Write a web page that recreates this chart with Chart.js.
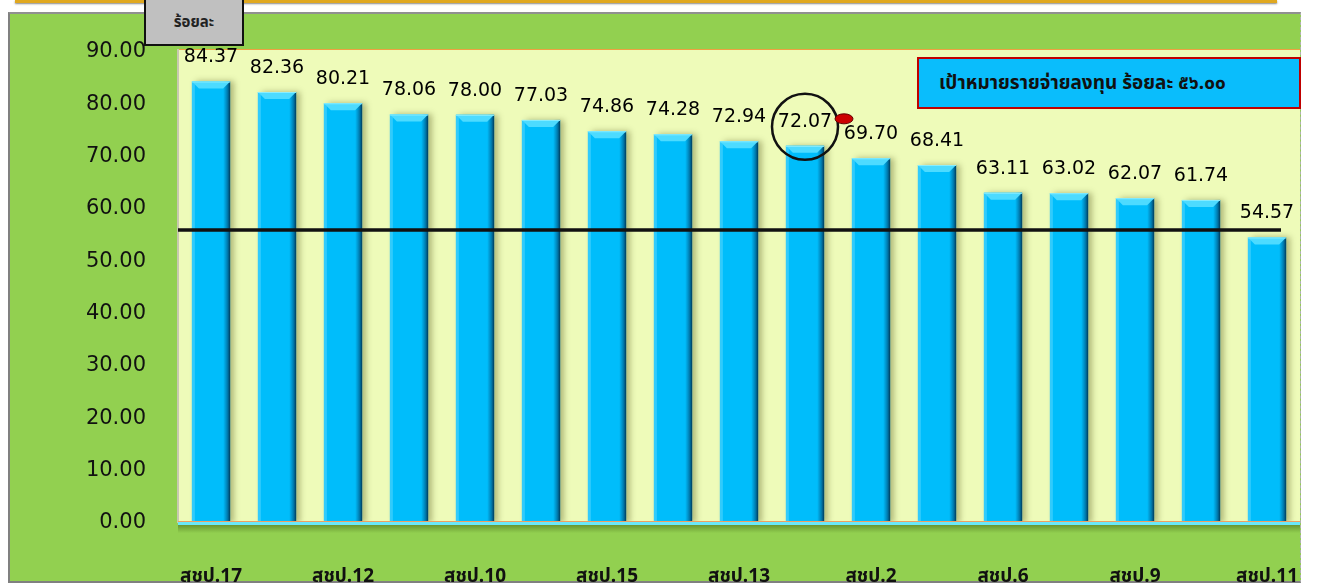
<!DOCTYPE html>
<html>
<head>
<meta charset="utf-8">
<script src="https://cdn.jsdelivr.net/npm/chart.js@4.4.1/dist/chart.umd.min.js"></script>
<style>
  body { margin: 0; background: #fff; width: 1327px; height: 584px; overflow: hidden; position: relative; }
  #topline { position: absolute; left: 15px; top: 0; width: 1262px; height: 3px; background: #e0a820; box-shadow: 0 1px 2px #888; }
  #frame { position: absolute; left: 8px; top: 12px; width: 1290px; height: 567px; background: #92d050;
           border-left: 2px solid #808080; border-top: 2px solid #909090; border-bottom: 2px solid #808080; border-right: 1px dashed #b0b0b0; }
  #chart { position: absolute; left: 0; top: 0; }
  #unit { position: absolute; left: 144px; top: -2px; width: 96px; height: 44px; background: #c0c0c0;
          border: 2px solid #111; display: flex; align-items: center; justify-content: center;
          font: bold 15px "Noto Sans Thai", Tahoma, "Noto Sans", sans-serif; color: #222; }
  #target { position: absolute; left: 917px; top: 57px; width: 380px; height: 48px; background: #0abdfc;
            border: 2px solid #c00000; display: flex; align-items: center;
            font: bold 19px "Noto Sans Thai", Tahoma, "Noto Sans", sans-serif; color: #111; }
  #target span { margin-left: 20px; }
</style>
</head>
<body>
<div id="topline"></div>
<div id="frame"></div>
<canvas id="chart" width="1327" height="584"></canvas>
<div id="unit">ร้อยละ</div>
<div id="target"><span>เป้าหมายรายจ่ายลงทุน ร้อยละ ๕๖.๐๐</span></div>
<script>
// categories whose names are hidden in the picture are left blank
const categories = ['สชป.17', '', 'สชป.12', '', 'สชป.10', '', 'สชป.15', '', 'สชป.13', '', 'สชป.2', '', 'สชป.6', '', 'สชป.9', '', 'สชป.11'];
const values = [84.37, 82.36, 80.21, 78.06, 78.00, 77.03, 74.86, 74.28, 72.94, 72.07, 69.70, 68.41, 63.11, 63.02, 62.07, 61.74, 54.57];
const targetValue = 56;
const yTicks = [0, 10, 20, 30, 40, 50, 60, 70, 80, 90];
const highlightIndex = 9;

const decor = {
    id: 'decor',
    beforeDraw(chart) {
        const ctx = chart.ctx;
        const a = chart.chartArea;
        ctx.save();
        // plot area
        ctx.fillStyle = '#eefbb9';
        ctx.fillRect(a.left, a.top - 3, a.right - a.left, a.bottom - a.top + 3);
        ctx.fillStyle = '#f0a040';
        ctx.fillRect(a.left, a.top - 3, a.right - a.left, 1);
        ctx.fillStyle = '#c8c8b0';
        ctx.fillRect(a.left - 1, a.top - 3, 2, a.bottom - a.top + 3);
        // shadow under the floor
        const g = ctx.createLinearGradient(0, a.bottom + 1, 0, a.bottom + 10);
        g.addColorStop(0, 'rgba(60,90,20,0.55)');
        g.addColorStop(1, 'rgba(60,90,20,0)');
        ctx.fillStyle = g;
        ctx.fillRect(a.left, a.bottom + 1, a.right - a.left, 9);
        ctx.restore();
    },
    beforeDatasetsDraw(chart) {
        const ctx = chart.ctx;
        ctx.save();
        ctx.shadowColor = 'rgba(60,60,0,0.35)';
        ctx.shadowBlur = 6;
        ctx.shadowOffsetX = 4;
    },
    afterDatasetsDraw(chart) {
        const ctx = chart.ctx;
        ctx.restore();
        const a = chart.chartArea;
        const meta = chart.getDatasetMeta(0);
        ctx.save();
        meta.data.forEach((bar, i) => {
            const p = bar.getProps(['x', 'y', 'base', 'width'], true);
            const l = p.x - p.width / 2, r = p.x + p.width / 2, b = 7;
            // left highlight
            ctx.fillStyle = 'rgba(140,230,255,0.35)';
            ctx.fillRect(l, p.y, 3, p.base - p.y);
            // dark right edge
            const gr = ctx.createLinearGradient(r - 7, 0, r, 0);
            gr.addColorStop(0, 'rgba(0,90,140,0)');
            gr.addColorStop(0.6, 'rgba(0,80,125,0.6)');
            gr.addColorStop(1, 'rgba(0,50,80,0.95)');
            ctx.fillStyle = gr;
            ctx.fillRect(r - 7, p.y, 7, p.base - p.y);
            // top bevel
            ctx.fillStyle = '#4ddbff';
            ctx.beginPath();
            ctx.moveTo(l, p.y);
            ctx.lineTo(r, p.y);
            ctx.lineTo(r - b, p.y + b);
            ctx.lineTo(l + b, p.y + b);
            ctx.closePath();
            ctx.fill();
            ctx.fillStyle = '#8beeff';
            ctx.fillRect(l, p.y, p.width, 1);
            // label
            ctx.fillStyle = '#000';
            ctx.font = '19px "DejaVu Sans"';
            ctx.textAlign = 'center';
            ctx.textBaseline = 'middle';
            ctx.fillText(values[i].toFixed(2), p.x, p.y - 24);
        });
        // floor
        ctx.fillStyle = '#f0a060';
        ctx.fillRect(a.left, a.bottom - 2, a.right - a.left, 1);
        ctx.fillStyle = '#6ae8f8';
        ctx.fillRect(a.left, a.bottom - 1, a.right - a.left, 3);
        // target line
        const ys = chart.scales.y;
        const ty = ys.getPixelForValue(targetValue);
        const last = meta.data[meta.data.length - 1];
        ctx.strokeStyle = '#111';
        ctx.lineWidth = 3.5;
        ctx.beginPath();
        ctx.moveTo(a.left, ty);
        ctx.lineTo(last.x + 14, ty);
        ctx.stroke();
        // highlight circle
        const hb = meta.data[highlightIndex];
        ctx.lineWidth = 2.5;
        ctx.beginPath();
        ctx.arc(hb.x, hb.y - 19, 33, 0, Math.PI * 2);
        ctx.stroke();
        ctx.fillStyle = '#cc0000';
        ctx.strokeStyle = '#600000';
        ctx.lineWidth = 1;
        ctx.beginPath();
        ctx.ellipse(hb.x + 39, hb.y - 27, 9, 5, 0, 0, Math.PI * 2);
        ctx.fill();
        ctx.stroke();
        ctx.restore();
    }
};

new Chart(document.getElementById('chart'), {
    type: 'bar',
    data: {
        labels: categories,
        datasets: [{
            data: values,
            backgroundColor: '#00bdfb',
            borderWidth: 0,
            barPercentage: 0.58,
            categoryPercentage: 1
        }]
    },
    options: {
        responsive: false,
        animation: false,
        devicePixelRatio: 1,
        layout: { padding: { left: 8, right: 27, top: 52, bottom: 0 } },
        plugins: { legend: { display: false }, tooltip: { enabled: false } },
        scales: {
            x: {
                grid: { display: false },
                border: { display: false },
                afterFit: s => { s.height = 61; s.paddingLeft = 0; s.paddingRight = 0; },
                ticks: {
                    autoSkip: false,
                    maxRotation: 0,
                    padding: 36,
                    color: '#111',
                    font: { family: '"Noto Sans Thai", Tahoma, "Noto Sans", sans-serif', size: 19, weight: 'bold' }
                }
            },
            y: {
                min: 0,
                max: 90,
                grid: { display: false, drawTicks: false },
                border: { display: false },
                afterFit: s => { s.width = 170; },
                afterBuildTicks: s => { s.ticks = yTicks.map(v => ({ value: v })); },
                ticks: {
                    padding: 32,
                    color: '#111',
                    font: { family: '"DejaVu Sans"', size: 21 },
                    callback: v => v.toFixed(2)
                }
            }
        }
    },
    plugins: [decor]
});
</script>
</body>
</html>
